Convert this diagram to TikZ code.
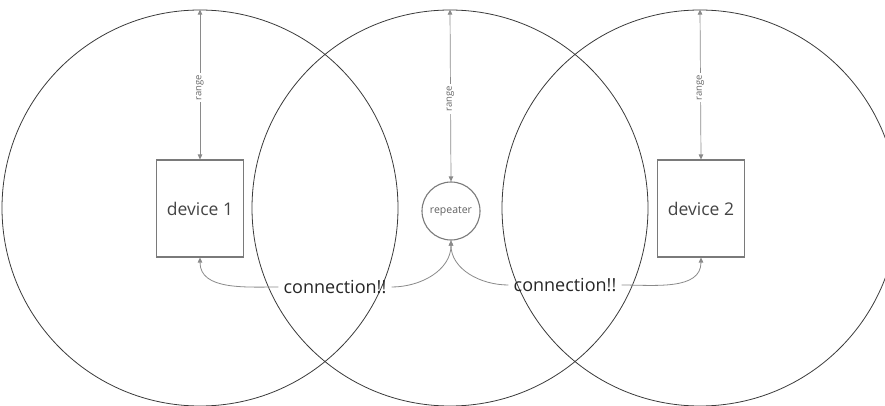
\documentclass[tikz,border=0pt]{standalone}
\usepackage{fontspec}
\setmainfont{Open Sans}
\usetikzlibrary{arrows.meta}
\definecolor{ringc}{HTML}{3A3A3A}
\definecolor{boxc}{HTML}{7A7A7A}
\definecolor{linec}{HTML}{8A8A8A}
\definecolor{txtc}{HTML}{444444}
\begin{document}
\begin{tikzpicture}[x=1pt,y=-1pt,
  ring/.style={draw=ringc, line width=0.8pt, circle, minimum size=396pt, inner sep=0pt},
  devbox/.style={draw=boxc, line width=1.1pt, minimum width=87pt, minimum height=97pt, inner sep=0pt, text=txtc, font=\fontsize{17.5}{20}\selectfont},
  repnode/.style={draw=boxc, line width=1.1pt, circle, minimum size=58pt, inner sep=0pt, text=txtc!85, font=\fontsize{10.5}{12}\selectfont},
  rangearrow/.style={draw=linec, line width=0.7pt, {Triangle[length=5pt,width=4.5pt]}-{Triangle[length=5pt,width=4.5pt]}},
  rangelabel/.style={fill=white, rotate=90, text=txtc!80, font=\fontsize{9.5}{10}\selectfont, inner sep=2pt},
  conntext/.style={text=black!85, font=\fontsize{18}{20}\selectfont, inner xsep=5pt, inner ysep=2pt},
  connline/.style={draw=linec, line width=0.8pt},
  conntip/.style={connline, -{Triangle[length=5pt,width=4.5pt]}}
]
\useasboundingbox (0,0) rectangle (885,406);
\begin{scope}
\clip (0,0) rectangle (885,406);
\node[ring] (C1) at (200,208) {};
\node[ring] (C2) at (450,208) {};
\node[ring] (C3) at (700,208) {};
\end{scope}

\node[devbox] (d1) at (200,208.5) {device 1};
\node[devbox] (d2) at (701,208.5) {device 2};
\node[repnode] (rep) at (451,211) {repeater};

\draw[rangearrow] (d1.north) -- (C1.north) node[rangelabel, pos=0.48] {range};
\draw[rangearrow] (rep.north) -- (C2.north) node[rangelabel, pos=0.48] {range};
\draw[rangearrow] (d2.north) -- (C3.north) node[rangelabel, pos=0.48] {range};

\node[conntext] (k1) at (335,287) {connection!!};
\node[conntext] (k2) at (565,285) {connection!!};

\draw[conntip] (k1.west) to[out=180,in=-90] (d1.south);
\draw[conntip] (k1.east) to[out=0,in=-90] (rep.south);
\draw[conntip] (k2.west) to[out=180,in=-90] (rep.south);
\draw[conntip] (k2.east) to[out=0,in=-90] (d2.south);
\end{tikzpicture}
\end{document}
